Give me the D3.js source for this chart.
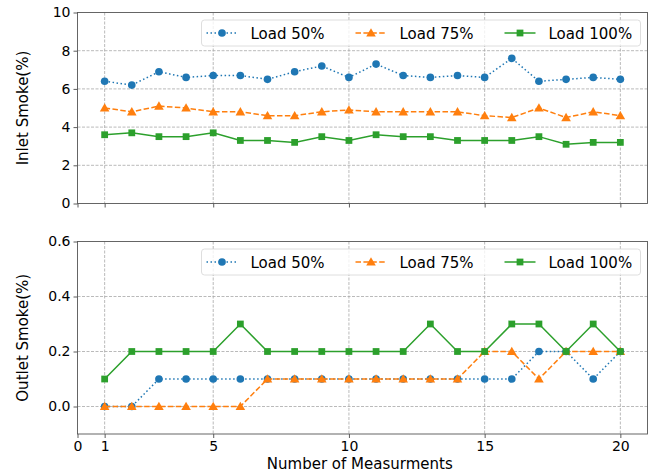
<!DOCTYPE html>
<html>
<head>
<meta charset="utf-8">
<script src="https://cdn.jsdelivr.net/npm/d3@7"></script>
<style>
  body { margin: 0; background: #fff; }
  text { font-family: "DejaVu Sans", sans-serif; fill: #000; }
</style>
</head>
<body>
<div id="chart"></div>
<script>
// measurement index 1..20
const measurements = d3.range(1, 21);

const seriesNames = ['Load 50%', 'Load 75%', 'Load 100%'];

// inlet smoke (%)
const inlet50 = [6.4, 6.2, 6.9, 6.6, 6.7, 6.7, 6.5, 6.9, 7.2, 6.6, 7.3, 6.7, 6.6, 6.7, 6.6, 7.6, 6.4, 6.5, 6.6, 6.5];
const inlet75 = [5.0, 4.8, 5.1, 5.0, 4.8, 4.8, 4.6, 4.6, 4.8, 4.9, 4.8, 4.8, 4.8, 4.8, 4.6, 4.5, 5.0, 4.5, 4.8, 4.6];
const inlet100 = [3.6, 3.7, 3.5, 3.5, 3.7, 3.3, 3.3, 3.2, 3.5, 3.3, 3.6, 3.5, 3.5, 3.3, 3.3, 3.3, 3.5, 3.1, 3.2, 3.2];

// outlet smoke (%)
const outlet50 = [0, 0, 0.1, 0.1, 0.1, 0.1, 0.1, 0.1, 0.1, 0.1, 0.1, 0.1, 0.1, 0.1, 0.1, 0.1, 0.2, 0.2, 0.1, 0.2];
const outlet75 = [0, 0, 0, 0, 0, 0, 0.1, 0.1, 0.1, 0.1, 0.1, 0.1, 0.1, 0.1, 0.2, 0.2, 0.1, 0.2, 0.2, 0.2];
const outlet100 = [0.1, 0.2, 0.2, 0.2, 0.2, 0.3, 0.2, 0.2, 0.2, 0.2, 0.2, 0.2, 0.3, 0.2, 0.2, 0.3, 0.3, 0.2, 0.3, 0.2];

const xTicks = [0, 1, 5, 10, 15, 20];
const inletTicks = [0, 2, 4, 6, 8, 10];
const outletTicks = [0, 0.2, 0.4, 0.6];

const width = 656, height = 475;
const colors = ['#1f77b4', '#ff7f0e', '#2ca02c'];
const dashes = ['1.5,2.5', '5.5,2.4', null];
const symbols = [d3.symbolCircle, d3.symbolTriangle, d3.symbolSquare];
const symSize = [46, 40, 46];

const svg = d3.select('#chart').append('svg')
  .attr('width', width).attr('height', height);

const x = d3.scaleLinear().domain([0, 21]).range([77.5, 647.5]);

function drawPanel(top, bottom, yDomain, yTicks, yFmt, series, yLabel, showX) {
  const y = d3.scaleLinear().domain(yDomain).range([bottom, top]);
  const g = svg.append('g');

  // grid
  g.append('g').selectAll('line').data(xTicks.filter(d => d > 0))
    .join('line')
    .attr('x1', d => x(d)).attr('x2', d => x(d))
    .attr('y1', top).attr('y2', bottom)
    .attr('stroke', '#a8a8a8').attr('stroke-width', 0.8)
    .attr('stroke-dasharray', '3,1.5');
  g.append('g').selectAll('line').data(yTicks.filter(d => y(d) > top + 1 && y(d) < bottom - 1))
    .join('line')
    .attr('x1', x.range()[0]).attr('x2', x.range()[1])
    .attr('y1', d => y(d)).attr('y2', d => y(d))
    .attr('stroke', '#a8a8a8').attr('stroke-width', 0.8)
    .attr('stroke-dasharray', '3,1.5');

  // axes
  const xa = g.append('g').attr('transform', `translate(0,${bottom})`)
    .call(d3.axisBottom(x).tickValues(xTicks).tickSize(4).tickPadding(3)
      .tickFormat(showX ? d3.format('d') : () => ''));
  const ya = g.append('g').attr('transform', `translate(${x.range()[0]},0)`)
    .call(d3.axisLeft(y).tickValues(yTicks).tickSize(4).tickPadding(3).tickFormat(yFmt));
  [xa, ya].forEach(a => {
    a.select('.domain').remove();
    a.selectAll('line').attr('stroke', '#333').attr('stroke-width', 0.8);
    a.selectAll('text').attr('font-size', 14).attr('fill', '#000')
      .style('font-family', '"DejaVu Sans", sans-serif');
  });

  g.append('rect')
    .attr('x', x.range()[0]).attr('y', top)
    .attr('width', x.range()[1] - x.range()[0]).attr('height', bottom - top)
    .attr('fill', 'none').attr('stroke', '#555').attr('stroke-width', 0.9);

  // lines + markers
  const line = d3.line().x((d, i) => x(measurements[i])).y(d => y(d));
  series.forEach((vals, k) => {
    g.append('path').datum(vals)
      .attr('d', line).attr('fill', 'none')
      .attr('stroke', colors[k]).attr('stroke-width', 1.5)
      .attr('stroke-dasharray', dashes[k]);
    g.append('g').selectAll('path').data(vals).join('path')
      .attr('transform', (d, i) => `translate(${x(measurements[i])},${y(d) + (k === 1 ? 0.8 : 0)})`)
      .attr('d', d3.symbol().type(symbols[k]).size(symSize[k]))
      .attr('fill', colors[k]);
  });

  // y label
  svg.append('text')
    .attr('transform', `translate(28,${(top + bottom) / 2}) rotate(-90)`)
    .attr('text-anchor', 'middle').attr('font-size', 15)
    .text(yLabel);

  // legend
  const lg = g.append('g').attr('transform', `translate(201.5,${top + 7.5})`);
  lg.append('rect').attr('width', 439).attr('height', 26).attr('rx', 3)
    .attr('fill', 'rgba(255,255,255,0.8)').attr('stroke', '#d6d6d6').attr('stroke-width', 0.8);
  const itemX = [5, 154, 303];
  seriesNames.forEach((name, k) => {
    const it = lg.append('g').attr('transform', `translate(${itemX[k]},13)`);
    it.append('line').attr('x1', 0).attr('x2', 31)
      .attr('stroke', colors[k]).attr('stroke-width', 1.5)
      .attr('stroke-dasharray', dashes[k]);
    it.append('path').attr('transform', `translate(15.5,${k === 1 ? 0.8 : 0})`)
      .attr('d', d3.symbol().type(symbols[k]).size(symSize[k]))
      .attr('fill', colors[k]);
    it.append('text').attr('x', 44).attr('y', 5.5)
      .attr('font-size', 15).text(name);
  });
  return y;
}

drawPanel(12.5, 203.5, [0, 10], inletTicks, d3.format('d'),
  [inlet50, inlet75, inlet100], 'Inlet Smoke(%)', false);
drawPanel(241.5, 434, [-0.1, 0.6], outletTicks, d3.format('.1f'),
  [outlet50, outlet75, outlet100], 'Outlet Smoke(%)', true);

svg.append('text')
  .attr('x', x(10.4)).attr('y', 469)
  .attr('text-anchor', 'middle').attr('font-size', 15)
  .text('Number of Measurments');
</script>
</body>
</html>
